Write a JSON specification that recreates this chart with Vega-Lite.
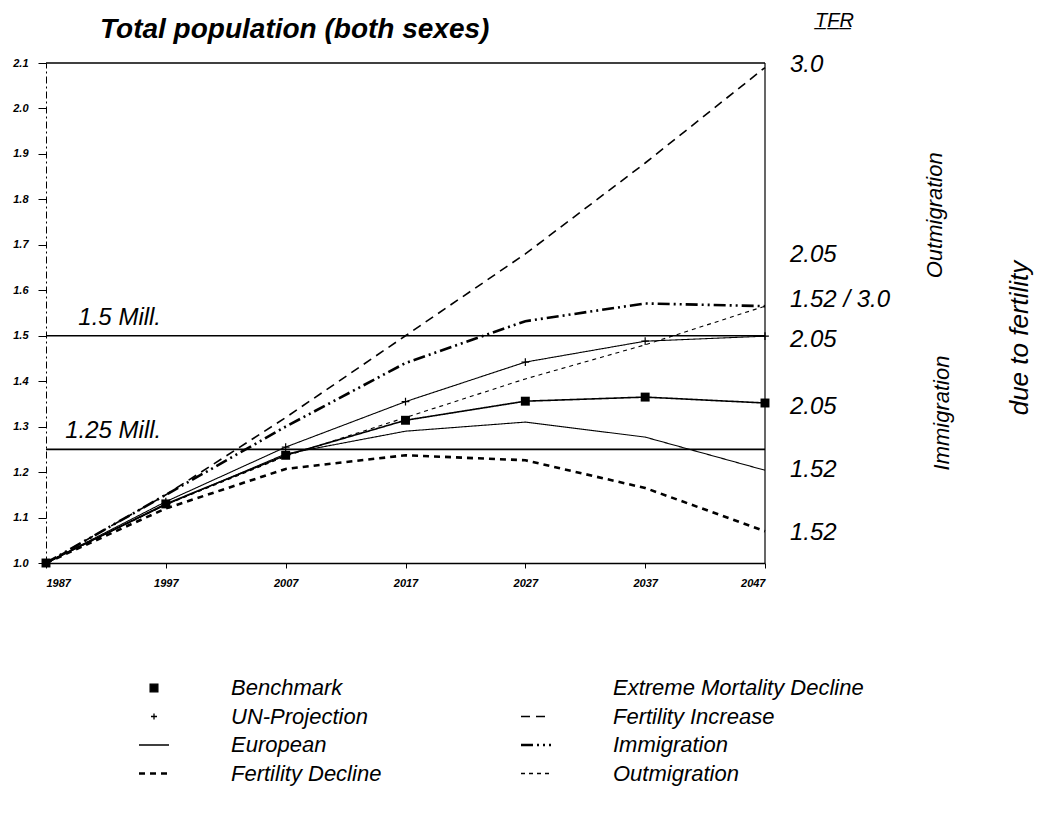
{
  "$schema": "https://vega.github.io/schema/vega-lite/v6.json",
  "width": 719,
  "height": 500,
  "autosize": "none",
  "padding": {"left": 46, "top": 63, "right": 290, "bottom": 256},
  "background": "white",
  "config": {"font": "Liberation Sans", "view": {"stroke": null}},
  "title": {
    "text": "Total population (both sexes)",
    "anchor": "start",
    "frame": "group",
    "dx": 54,
    "offset": 0,
    "dy": 33,
    "fontSize": 28,
    "fontStyle": "italic",
    "fontWeight": "bold",
    "color": "black"
  },
  "datasets": {
    "series": [
      {"series": "Benchmark", "year": 1987, "value": 1.0},
      {"series": "Benchmark", "year": 1997, "value": 1.13},
      {"series": "Benchmark", "year": 2007, "value": 1.237},
      {"series": "Benchmark", "year": 2017, "value": 1.314},
      {"series": "Benchmark", "year": 2027, "value": 1.356},
      {"series": "Benchmark", "year": 2037, "value": 1.365},
      {"series": "Benchmark", "year": 2047, "value": 1.352},
      {"series": "UN-Projection", "year": 1987, "value": 1.0},
      {"series": "UN-Projection", "year": 1997, "value": 1.135},
      {"series": "UN-Projection", "year": 2007, "value": 1.255},
      {"series": "UN-Projection", "year": 2017, "value": 1.355},
      {"series": "UN-Projection", "year": 2027, "value": 1.442},
      {"series": "UN-Projection", "year": 2037, "value": 1.488},
      {"series": "UN-Projection", "year": 2047, "value": 1.499},
      {"series": "European", "year": 1987, "value": 1.0},
      {"series": "European", "year": 1997, "value": 1.128},
      {"series": "European", "year": 2007, "value": 1.24},
      {"series": "European", "year": 2017, "value": 1.29},
      {"series": "European", "year": 2027, "value": 1.31},
      {"series": "European", "year": 2037, "value": 1.277},
      {"series": "European", "year": 2047, "value": 1.204},
      {"series": "Fertility Decline", "year": 1987, "value": 1.0},
      {"series": "Fertility Decline", "year": 1997, "value": 1.12},
      {"series": "Fertility Decline", "year": 2007, "value": 1.207},
      {"series": "Fertility Decline", "year": 2017, "value": 1.237},
      {"series": "Fertility Decline", "year": 2027, "value": 1.226},
      {"series": "Fertility Decline", "year": 2037, "value": 1.165},
      {"series": "Fertility Decline", "year": 2047, "value": 1.07},
      {"series": "Fertility Increase", "year": 1987, "value": 1.0},
      {"series": "Fertility Increase", "year": 1997, "value": 1.15},
      {"series": "Fertility Increase", "year": 2007, "value": 1.32},
      {"series": "Fertility Increase", "year": 2017, "value": 1.5},
      {"series": "Fertility Increase", "year": 2027, "value": 1.68},
      {"series": "Fertility Increase", "year": 2037, "value": 1.88},
      {"series": "Fertility Increase", "year": 2047, "value": 2.09},
      {"series": "Immigration", "year": 1987, "value": 1.0},
      {"series": "Immigration", "year": 1997, "value": 1.15},
      {"series": "Immigration", "year": 2007, "value": 1.3},
      {"series": "Immigration", "year": 2017, "value": 1.44},
      {"series": "Immigration", "year": 2027, "value": 1.532},
      {"series": "Immigration", "year": 2037, "value": 1.571},
      {"series": "Immigration", "year": 2047, "value": 1.565},
      {"series": "Outmigration", "year": 1987, "value": 1.0},
      {"series": "Outmigration", "year": 1997, "value": 1.128},
      {"series": "Outmigration", "year": 2007, "value": 1.235},
      {"series": "Outmigration", "year": 2017, "value": 1.32},
      {"series": "Outmigration", "year": 2027, "value": 1.405},
      {"series": "Outmigration", "year": 2037, "value": 1.48},
      {"series": "Outmigration", "year": 2047, "value": 1.565}
    ],
    "refs": [{"level": 1.25}, {"level": 1.5}, {"level": 2.1}],
    "vref": [{"year": 2047}],
    "mill": [
      {"label": "1.5 Mill.", "year": 1989.7, "value": 1.5},
      {"label": "1.25 Mill.", "year": 1988.6, "value": 1.25}
    ],
    "tfr": [
      {"label": "3.0", "value": 2.095},
      {"label": "2.05", "value": 1.677},
      {"label": "1.52 / 3.0", "value": 1.578},
      {"label": "2.05", "value": 1.49},
      {"label": "2.05", "value": 1.343},
      {"label": "1.52", "value": 1.204},
      {"label": "1.52", "value": 1.066}
    ],
    "tfrhead": [{"label": "T̲F̲R̲", "year": 2047, "value": 2.193}],
    "side": [
      {"label": "Outmigration", "year": 2061.2, "value": 1.765, "kind": "small"},
      {"label": "Immigration", "year": 2061.8, "value": 1.33, "kind": "small"},
      {"label": "due to fertility", "year": 2068.3, "value": 1.495, "kind": "big"}
    ]
  },
  "layer": [
    {
      "data": {"name": "refs"},
      "mark": {"type": "rule", "stroke": "black", "strokeWidth": 1.6},
      "encoding": {
        "y": {"field": "level", "type": "quantitative", "scale": {"domain": [1.0, 2.1], "nice": false, "zero": false},
          "axis": {
            "values": [1.0, 1.1, 1.2, 1.3, 1.4, 1.5, 1.6, 1.7, 1.8, 1.9, 2.0, 2.1],
            "format": ".1f", "title": null, "grid": false,
            "labelFontSize": 11, "labelFontStyle": "italic", "labelFontWeight": "bold", "labelColor": "black",
            "tickSize": 8, "tickColor": "black", "labelPadding": 10,
            "domainColor": "black", "domainDash": [7, 3, 2, 3], "domainWidth": 1
          }
        }
      }
    },
    {
      "data": {"name": "vref"},
      "mark": {"type": "rule", "stroke": "black", "strokeWidth": 1.2},
      "encoding": {
        "x": {"field": "year", "type": "quantitative", "scale": {"domain": [1987, 2047], "nice": false, "zero": false},
          "axis": {
            "values": [1987, 1997, 2007, 2017, 2027, 2037, 2047],
            "format": "d", "title": null, "grid": false,
            "labelFontSize": 11, "labelFontStyle": "italic", "labelFontWeight": "bold", "labelColor": "black",
            "tickSize": 5, "tickColor": "black", "labelPadding": 9,
            "domainColor": "black", "domainWidth": 1.6
          }
        }
      }
    },
    {
      "data": {"name": "series"},
      "transform": [{"filter": "datum.series === 'Immigration' || datum.series === 'Fertility Decline'"}],
      "mark": {"type": "line", "color": "black", "strokeWidth": 2.6},
      "encoding": {
        "x": {"field": "year", "type": "quantitative"},
        "y": {"field": "value", "type": "quantitative"},
        "strokeDash": {"field": "series", "type": "nominal",
          "scale": {
            "domain": ["Benchmark", "UN-Projection", "European", "Fertility Decline", "Extreme Mortality Decline", "Fertility Increase", "Immigration", "Outmigration"],
            "range": [[1, 0], [1, 0], [1, 0], [6, 5], [1, 0], [9, 6], [12, 4, 2, 4, 2, 4], [4, 4]]
          },
          "legend": {
            "title": null,
            "orient": "none",
            "legendX": 97,
            "legendY": 614,
            "columns": 2,
            "columnPadding": 134,
            "rowPadding": 6.5,
            "symbolSize": 900,
            "symbolType": "stroke",
            "symbolStrokeColor": "black",
            "labelFontSize": 22,
            "labelFontStyle": "italic",
            "labelColor": "black",
            "labelOffset": 66,
            "labelLimit": 400,
            "encode": {
              "symbols": {
                "update": {
                  "shape": {"signal": "datum.value === 'Benchmark' ? 'square' : datum.value === 'UN-Projection' ? 'M-1,0H1M0,-1V1' : 'stroke'"},
                  "size": {"signal": "datum.value === 'Benchmark' ? 60 : datum.value === 'UN-Projection' ? 36 : 900"},
                  "fill": {"signal": "datum.value === 'Benchmark' ? 'black' : 'transparent'"},
                  "stroke": {"value": "black"},
                  "strokeWidth": {"signal": "(datum.value === 'Immigration' || datum.value === 'Fertility Decline') ? 2.5 : 1.3"},
                  "opacity": {"signal": "datum.value === 'Extreme Mortality Decline' ? 0 : 1"}
                }
              }
            }
          }
        }
      }
    },
    {
      "data": {"name": "series"},
      "transform": [{"filter": "datum.series === 'Benchmark' || datum.series === 'Fertility Increase'"}],
      "mark": {"type": "line", "color": "black", "strokeWidth": 1.6},
      "encoding": {
        "x": {"field": "year", "type": "quantitative"},
        "y": {"field": "value", "type": "quantitative"},
        "strokeDash": {"field": "series", "type": "nominal"}
      }
    },
    {
      "data": {"name": "series"},
      "transform": [{"filter": "datum.series === 'UN-Projection' || datum.series === 'European' || datum.series === 'Outmigration'"}],
      "mark": {"type": "line", "color": "black", "strokeWidth": 1.1},
      "encoding": {
        "x": {"field": "year", "type": "quantitative"},
        "y": {"field": "value", "type": "quantitative"},
        "strokeDash": {"field": "series", "type": "nominal"}
      }
    },
    {
      "data": {"name": "series"},
      "transform": [{"filter": "datum.series === 'Benchmark'"}],
      "mark": {"type": "point", "shape": "square", "filled": true, "color": "black", "size": 80, "opacity": 1},
      "encoding": {
        "x": {"field": "year", "type": "quantitative"},
        "y": {"field": "value", "type": "quantitative"}
      }
    },
    {
      "data": {"name": "series"},
      "transform": [{"filter": "datum.series === 'UN-Projection'"}],
      "mark": {"type": "point", "shape": "M-1,0H1M0,-1V1", "filled": false, "color": "black", "strokeWidth": 1.2, "size": 60, "opacity": 1},
      "encoding": {
        "x": {"field": "year", "type": "quantitative"},
        "y": {"field": "value", "type": "quantitative"}
      }
    },
    {
      "data": {"name": "mill"},
      "mark": {"type": "text", "align": "left", "baseline": "bottom", "dy": -6, "fontSize": 24, "fontStyle": "italic", "color": "black"},
      "encoding": {
        "x": {"field": "year", "type": "quantitative"},
        "y": {"field": "value", "type": "quantitative"},
        "text": {"field": "label"}
      }
    },
    {
      "data": {"name": "tfr"},
      "mark": {"type": "text", "align": "left", "baseline": "middle", "dx": 25, "fontSize": 24, "fontStyle": "italic", "color": "black"},
      "encoding": {
        "x": {"datum": 2047, "type": "quantitative"},
        "y": {"field": "value", "type": "quantitative"},
        "text": {"field": "label"}
      }
    },
    {
      "data": {"name": "tfrhead"},
      "mark": {"type": "text", "align": "left", "baseline": "middle", "dx": 50, "fontSize": 20, "fontStyle": "italic", "color": "black"},
      "encoding": {
        "x": {"field": "year", "type": "quantitative"},
        "y": {"field": "value", "type": "quantitative"},
        "text": {"field": "label"}
      }
    },
    {
      "data": {"name": "side"},
      "mark": {"type": "text", "align": "center", "baseline": "middle", "angle": 270, "fontStyle": "italic", "color": "black"},
      "encoding": {
        "x": {"field": "year", "type": "quantitative"},
        "y": {"field": "value", "type": "quantitative"},
        "text": {"field": "label"},
        "size": {"field": "kind", "type": "nominal", "scale": {"domain": ["small", "big"], "range": [22, 26]}, "legend": null}
      }
    }
  ]
}
